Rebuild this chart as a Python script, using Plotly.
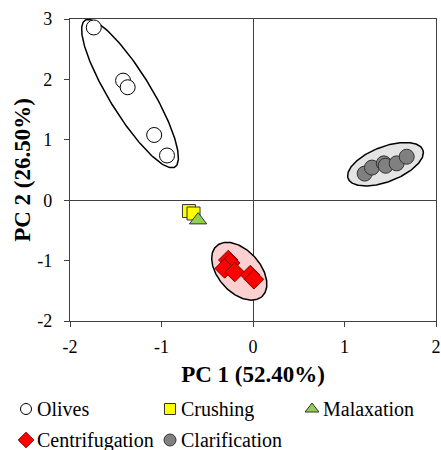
import numpy as np
import plotly.graph_objects as go

# ---- data ----
olives_x = [-1.74, -1.42, -1.37, -1.08, -0.94]
olives_y = [2.86, 1.98, 1.87, 1.08, 0.74]
crush_x = [-0.70, -0.65]
crush_y = [-0.18, -0.22]
malax_x = [-0.60]
malax_y = [-0.33]
centr_x = [-0.27, -0.25, -0.31, -0.20, -0.03, 0.01]
centr_y = [-0.99, -1.04, -1.13, -1.19, -1.24, -1.31]
clar_x = [1.22, 1.30, 1.43, 1.45, 1.57, 1.68]
clar_y = [0.44, 0.54, 0.61, 0.57, 0.61, 0.72]

x_ticks = [-2, -1, 0, 1, 2]
x_ticklabels = ["-2", "-1", "0", "1", "2"]
y_ticks = [-2, -1, 0, 1, 2, 3]
y_ticklabels = ["-2", "-1", "0", "1", "2", "3"]

# group ellipses: center (data units), semi-axes (screen px), angle deg
ell_cx = [-1.344, -0.15, 1.448]
ell_cy = [1.765, -1.176, 0.596]
ell_a = [86, 34, 40]
ell_b = [21, 21, 17.5]
ell_ang = [-58.5, -48, 21]
ell_fill = ["rgba(0,0,0,0)", "#fbd0d0", "#e4e4e4"]

X_RANGE = [-2, 2]
Y_RANGE = [-2, 3]

# ---- layout geometry (page pixels) ----
W, H = 441, 450
M_T, M_R = 19, 5
PLOT_L, PLOT_B = 70, 321
PW = W - M_R            # paper width (l=0)
PH = H - M_T            # paper height (b=0)
PX_X = (PW - PLOT_L) / 4.0
PX_Y = (PLOT_B - M_T) / 5.0

FONT = "Liberation Serif"

fig = go.Figure()

t = np.linspace(0, 2 * np.pi, 200)
for cx, cy, a, b, ang, fc in zip(ell_cx, ell_cy, ell_a, ell_b, ell_ang, ell_fill):
    th = np.deg2rad(ang)
    ex = cx + (a * np.cos(th) * np.cos(t) - b * np.sin(th) * np.sin(t)) / PX_X
    ey = cy + (a * np.sin(th) * np.cos(t) + b * np.cos(th) * np.sin(t)) / PX_Y
    fig.add_trace(go.Scatter(x=ex, y=ey, mode="lines", fill="toself", fillcolor=fc,
                             line=dict(color="black", width=1.5), showlegend=False,
                             hoverinfo="skip"))

series = [
    ("Olives", olives_x, olives_y, "circle", 15, "white", "black"),
    ("Crushing", crush_x, crush_y, "square", 13, "#ffff00", "#333333"),
    ("Malaxation", malax_x, malax_y, "triangle-up", 15, "#92d050", "#333333"),
    ("Centrifugation", centr_x, centr_y, "diamond", 15, "#ff0000", "#8b0000"),
    ("Clarification", clar_x, clar_y, "circle", 15, "#808080", "#333333"),
]
for name, xs, ys, sym, sz, col, lc in series:
    fig.add_trace(go.Scatter(x=xs, y=ys, mode="markers", name=name, showlegend=False,
                             marker=dict(symbol=sym, size=sz, color=col,
                                         line=dict(color=lc, width=1))))

# ---- manual legend on a separate full-page axis in page-pixel units ----
leg_pos = [(26, 409), (170, 409), (312, 409), (26, 440), (170, 440)]
leg_size = [11, 11, 12, 12, 12]
for (name, xs, ys, sym, sz, col, lc), (lx, ly), ls in zip(series, leg_pos, leg_size):
    fig.add_trace(go.Scatter(x=[lx], y=[ly], xaxis="x2", yaxis="y2", mode="markers",
                             showlegend=False, hoverinfo="skip",
                             marker=dict(symbol=sym, size=ls, color=col,
                                         line=dict(color=lc, width=1))))
    fig.add_annotation(x=lx + 9, y=ly, xref="x2", yref="y2", text=name,
                       showarrow=False, xanchor="left", yanchor="middle",
                       font=dict(family=FONT, size=20, color="black"))

fig.update_layout(
    width=W, height=H,
    margin=dict(l=0, r=M_R, t=M_T, b=0, autoexpand=False),
    plot_bgcolor="rgba(0,0,0,0)", paper_bgcolor="white",
    font=dict(family=FONT, size=18, color="black"),
    showlegend=False,
    xaxis=dict(domain=[PLOT_L / PW, 1], range=X_RANGE, tickvals=x_ticks,
               ticktext=x_ticklabels, showgrid=False,
               zeroline=True, zerolinecolor="#404040", zerolinewidth=1.3,
               showline=True, linecolor="#404040", linewidth=1.3, mirror=True,
               ticks="outside", ticklen=5, tickcolor="#404040",
               tickfont=dict(family=FONT, size=18), ticklabelstandoff=4,
               automargin=False,
               title=dict(text="<b>PC 1 (52.40%)</b>",
                          font=dict(family=FONT, size=23), standoff=10)),
    yaxis=dict(domain=[(H - PLOT_B) / PH, 1], range=Y_RANGE, tickvals=y_ticks,
               ticktext=y_ticklabels, showgrid=False,
               zeroline=True, zerolinecolor="#404040", zerolinewidth=1.3,
               showline=True, linecolor="#404040", linewidth=1.3, mirror=True,
               ticks="outside", ticklen=5, tickcolor="#404040",
               tickfont=dict(family=FONT, size=18), ticklabelstandoff=8,
               automargin=False,
               title=dict(text="<b>PC 2 (26.50%)</b>",
                          font=dict(family=FONT, size=23), standoff=0)),
    xaxis2=dict(domain=[0, 1], range=[0, PW], visible=False, fixedrange=True,
                anchor="y2"),
    yaxis2=dict(domain=[0, 1], range=[H, M_T], visible=False, fixedrange=True,
                anchor="x2"),
)

fig.write_html("out.html")
